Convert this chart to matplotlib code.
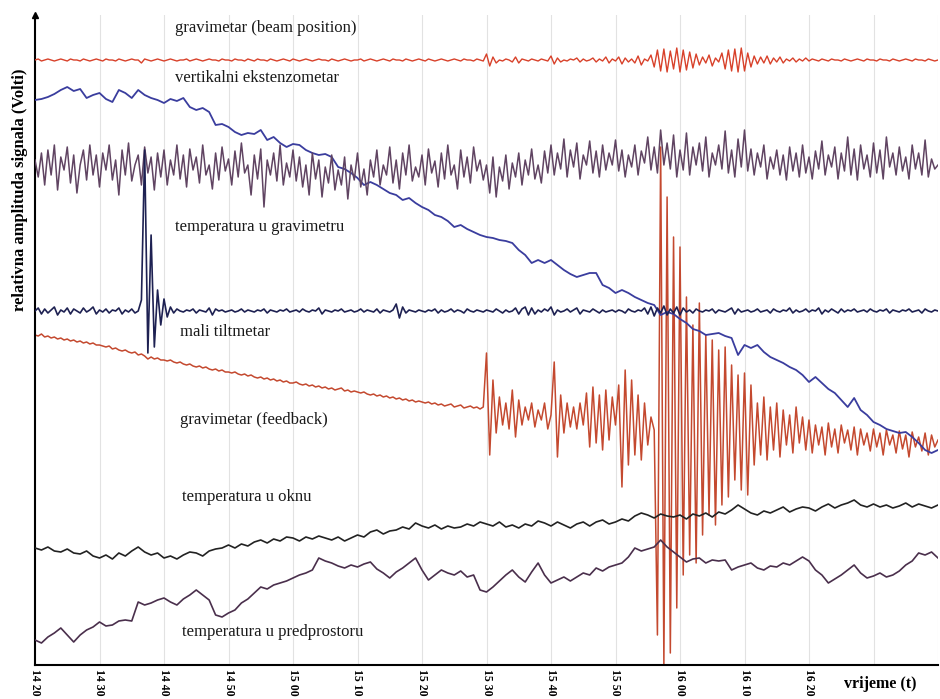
import numpy as np
import matplotlib
matplotlib.use("Agg")
import matplotlib.pyplot as plt

# relative signal amplitude (arbitrary units, 0 = bottom of plot), sampled every 0.5 min from 14:20
beam_position = [
    605, 606, 604, 605, 606, 605, 604, 605, 606, 605, 604, 606, 605, 605, 604, 606, 605, 604, 605, 606,
    605, 604, 606, 605, 605, 604, 606, 605, 604, 605, 606, 605, 605, 602, 606, 605, 604, 605, 606, 605,
    604, 605, 606, 605, 604, 605, 605, 606, 604, 605, 606, 605, 604, 605, 606, 605, 605, 604, 606, 605,
    605, 604, 606, 605, 605, 604, 606, 605, 604, 606, 605, 605, 604, 606, 605, 604, 605, 606, 605, 604,
    606, 605, 604, 605, 606, 605, 604, 605, 606, 605, 605, 604, 606, 605, 604, 605, 606, 605, 604, 605,
    605, 606, 604, 605, 606, 605, 604, 605, 606, 605, 604, 606, 605, 605, 604, 606, 605, 604, 605, 606,
    605, 604, 606, 605, 604, 605, 606, 605, 604, 605, 606, 605, 604, 606, 605, 605, 604, 606, 605, 604,
    611, 599, 608, 602, 605, 604, 606, 605, 603, 608, 602, 606, 605, 604, 606, 605, 604, 606, 605, 604,
    609, 601, 607, 603, 605, 604, 606, 605, 607, 603, 606, 604, 605, 607, 603, 606, 604, 608, 602, 606,
    604, 608, 601, 607, 603, 606, 602, 609, 600, 606, 604, 610, 598, 615, 594, 616, 593, 614, 596, 617,
    593, 615, 595, 613, 597, 611, 600, 608, 602, 610, 599, 607, 603, 612, 596, 615, 594, 616, 593, 617,
    594, 612, 598, 609, 601, 608, 602, 609, 601, 607, 603, 608, 602, 606, 604, 607, 603, 606, 604, 607,
    604, 606, 605, 604, 606, 605, 604, 606, 605, 605, 604, 606, 605, 604, 605, 606, 605, 604, 606, 605,
    605, 604, 606, 605, 605, 604, 606, 605, 604, 605, 606, 605, 604, 606, 605, 605, 604, 606, 605, 604,
    605,
]

temp_gravimetar = [
    505, 488, 512, 480, 515, 490, 520, 475, 508, 495, 518, 482, 510, 472, 500, 515, 485, 520, 490, 510,
    478, 512, 495, 520, 485, 505, 470, 515, 490, 522, 484, 500, 510, 480, 518, 492, 508, 475, 512, 488,
    515, 480, 505, 490, 520, 486, 510, 478, 516, 495, 508, 482, 520, 490, 500, 476, 512, 485, 518, 494,
    506, 480, 514, 488, 522, 492, 500, 470, 510, 486, 516, 458, 505, 490, 512, 484, 520, 480, 502, 488,
    515, 484, 508, 478, 500, 470, 512, 486, 505, 468, 498, 482, 510, 475, 495, 480, 508, 466, 500, 485,
    512, 478, 496, 470, 505, 488, 515, 480, 500, 490, 518, 482, 505, 476, 512, 490, 520, 484, 498, 488,
    510, 480, 516, 492, 504, 478, 512, 486, 520, 490, 500, 476, 515, 488, 508, 482, 518, 494, 505, 485,
    500, 472, 508, 468, 498, 484, 510, 476, 502, 488, 512, 480, 505, 490, 516, 486, 500, 482, 514, 492,
    520, 490, 512, 496, 526, 488, 515, 498, 522, 486, 510, 500, 524, 492, 514, 488, 520, 495, 512, 500,
    525, 494, 515, 488, 510, 498, 520, 490, 514, 502, 528, 495, 518, 492, 535, 500, 522, 496, 530, 488,
    515, 495, 532, 490, 518, 500, 522, 494, 528, 488, 512, 500, 520, 496, 534, 492, 515, 488, 526, 498,
    535, 494, 516, 490, 512, 498, 520, 486, 508, 496, 515, 490, 510, 485, 518, 494, 512, 488, 520, 492,
    508, 486, 514, 496, 524, 490, 510, 498, 518, 486, 512, 494, 528, 490, 516, 485, 520, 496, 510, 488,
    522, 492, 515, 486, 528, 498, 512, 490, 518, 494, 508, 486, 520, 496, 512, 490, 525, 488, 506, 496,
    500,
]

tiltmetar = [
    354, 357, 351, 356, 352, 355, 358, 350, 355, 353, 357, 351, 356, 354, 352, 357, 353, 355, 358, 351,
    355, 353, 356, 352, 355, 354, 357, 351, 355, 353, 356, 352, 354, 365, 515, 312, 430, 318, 375, 340,
    366, 348, 358, 352, 356, 354, 353, 355, 354, 356, 352, 355, 354, 353, 357, 350, 356, 354, 355, 353,
    354, 355, 353, 354, 356, 353, 355, 354, 353, 355, 354, 356, 352, 355, 354, 353, 355, 354, 356, 353,
    354, 355, 353, 356, 354, 353, 355, 354, 357, 351, 355, 354, 353, 355, 354, 356, 353, 354, 355, 353,
    354, 356, 353, 355, 354, 353, 356, 352, 355, 354, 353, 355, 361, 347, 358, 352, 355, 354, 353, 355,
    354, 353, 355, 354, 356, 352, 355, 353, 354, 356, 353, 355, 354, 352, 356, 354, 353, 355, 354, 353,
    355, 354, 353, 356, 354, 352, 355, 353, 354, 357, 351, 356, 358, 350, 357, 351, 355, 353, 356, 354,
    358, 350, 355, 353, 354, 356, 353, 355, 357, 351, 355, 354, 353, 356, 354, 352, 355, 353, 354, 355,
    353, 355, 354, 352, 356, 354, 353, 355, 354, 357, 351, 358, 349, 357, 352, 359, 350, 356, 352, 358,
    350, 357, 353, 355, 352, 356, 354, 353, 355, 354, 356, 352, 355, 354, 353, 355, 357, 351, 356, 353,
    354, 355, 353, 354, 356, 353, 354, 355, 352, 356, 354, 353, 355, 354, 357, 352, 355, 353, 354, 356,
    353, 355, 354, 357, 351, 355, 353, 356, 354, 352, 356, 353, 355, 354, 356, 353, 354, 355, 353, 356,
    354, 353, 355, 354, 356, 352, 355, 354, 353, 355, 354, 356, 353, 354, 355, 352, 356, 354, 353, 355,
    354,
]

feedback = [
    330, 329, 331, 328, 329, 327, 328, 326, 327, 325, 326, 324, 325, 323, 324, 322, 323, 321, 322, 320,
    320, 319, 318, 319, 316, 317, 315, 314, 315, 313, 312, 313, 310, 311, 309, 306, 308, 306, 307, 305,
    305, 304, 305, 303, 302, 303, 301, 300, 301, 299, 298, 299, 297, 298, 296, 295, 296, 294, 295, 293,
    293, 292, 293, 291, 290, 291, 289, 290, 288, 287, 288, 286, 287, 285, 286, 284, 285, 283, 284, 282,
    282, 283, 281, 280, 281, 279, 280, 278, 279, 277, 278, 276, 277, 275, 276, 277, 274, 275, 273, 274,
    273, 272, 273, 271, 270, 271, 269, 270, 268, 269, 267, 268, 266, 267, 265, 266, 264, 265, 263, 264,
    263, 262, 263, 261, 262, 260, 261, 259, 260, 261, 258, 259, 260, 257, 258, 259, 257, 258, 256, 258,
    312, 210, 285, 232, 268, 240, 262, 236, 275, 228, 265, 240, 258, 245, 262, 238, 255, 245, 262, 236,
    250, 303, 208, 270, 232, 262, 238, 258, 236, 262, 240, 272, 218, 278, 222, 270, 215, 275, 225, 268,
    240, 280, 178, 295, 200, 285, 210, 270, 205, 262, 220, 248, 235, 30, 518, 1, 468, 12, 428, 57,
    418, 90, 368, 110, 340, 102, 362, 130, 330, 150, 325, 140, 315, 160, 318, 168, 300, 185, 290, 175,
    292, 170, 280, 200, 262, 210, 268, 205, 258, 215, 262, 208, 255, 220, 250, 212, 258, 222, 248, 215,
    245, 212, 240, 220, 238, 210, 242, 218, 236, 212, 240, 222, 235, 215, 238, 210, 236, 220, 232, 214,
    236, 218, 232, 210, 235, 220, 230, 212, 234, 216, 230, 208, 233, 218, 228, 214, 232, 210, 230, 218,
    225,
]

# slower channels, sampled every 1 min
ekstenzometar = [
    565, 566, 568, 571, 575, 578, 574, 576, 567, 570,
    572, 566, 563, 575, 572, 567, 575, 570, 567, 565,
    562, 566, 564, 567, 558, 555, 557, 553, 540, 541,
    538, 533, 530, 532, 531, 535, 525, 528, 522, 518,
    521, 520, 515, 512, 510, 511, 508, 498, 496, 492,
    487, 480, 483, 480, 476, 472, 470, 465, 467, 462,
    458, 455, 450, 448, 444, 438, 440, 436, 433, 430,
    428, 427, 425, 424, 422, 415, 410, 402, 405, 402,
    405, 400, 395, 391, 388, 390, 392, 392, 380, 377,
    372, 375, 372, 368, 365, 362, 360, 350, 353, 351,
    346, 342, 336, 334, 330, 331, 332, 329, 327, 310,
    320, 317, 320, 313, 308, 305, 302, 298, 295, 290,
    283, 288, 282, 276, 272, 265, 258, 267, 255, 250,
    243, 240, 236, 234, 232, 233, 228, 222, 215, 212,
    215,
]

temp_okno = [
    117, 115, 118, 114, 113, 116, 112, 111, 114, 109,
    107, 110, 106, 112, 109, 114, 118, 113, 110, 112,
    107, 109, 106, 110, 113, 112, 109, 114, 116, 117,
    120, 117, 121, 119, 123, 125, 122, 126, 124, 128,
    127, 124, 128, 126, 129, 127, 125, 128, 124, 127,
    130, 128, 133, 135, 131, 134, 135, 138, 136, 142,
    139, 137, 140, 136, 139, 137, 138, 141, 139, 143,
    141, 139, 143, 138, 140, 137, 141, 139, 144, 142,
    139, 143, 140, 137, 141, 143, 139, 143, 145, 141,
    143, 146, 144, 149, 152, 150, 147, 151, 149, 148,
    150, 146, 151, 149, 152, 148, 153, 151, 155, 160,
    156, 152, 150, 154, 152, 155, 158, 153, 156, 158,
    157, 154, 158, 161, 157, 160, 162, 165, 160, 158,
    161, 158, 160, 157, 159, 162, 158, 161, 159, 157,
    160,
]

temp_predprostor = [
    25, 22, 28, 32, 37, 30, 23, 30, 35, 38,
    43, 39, 40, 44, 45, 44, 63, 60, 62, 65,
    67, 63, 60, 66, 70, 75, 70, 65, 50, 48,
    52, 55, 62, 66, 72, 78, 76, 80, 82, 84,
    87, 90, 92, 95, 107, 104, 102, 99, 97, 100,
    98, 101, 103, 96, 92, 87, 93, 97, 102, 107,
    95, 85, 90, 95, 92, 90, 94, 88, 90, 75,
    73, 78, 84, 90, 95, 88, 83, 93, 102, 90,
    82, 85, 88, 84, 88, 92, 90, 97, 94, 98,
    100, 102, 108, 117, 114, 116, 118, 125, 118, 113,
    108, 103, 106, 107, 102, 105, 104, 105, 95, 98,
    100, 102, 97, 95, 99, 98, 102, 100, 104, 108,
    104, 95, 90, 82, 86, 90, 95, 100, 92, 87,
    89, 92, 88, 90, 94, 100, 104, 112, 110, 113,
    107,
]

tick_minutes = list(range(0, 130, 10))
tick_labels = ["14 20", "14 30", "14 40", "14 50", "15 00", "15 10", "15 20",
               "15 30", "15 40", "15 50", "16 00", "16 10", "16 20"]

plt.rcParams['font.family'] = ['Liberation Serif', 'DejaVu Serif']

fig = plt.figure(figsize=(9.40, 6.99), dpi=100)
ax = fig.add_axes([35 / 940, 34 / 699, 903 / 940, 650 / 699])

def t_of(vals, step):
    return np.arange(len(vals)) * step

# feedback first so the other traces sit on top of the quake strokes
ax.plot(t_of(feedback, 0.5), feedback, color='#c4492f', lw=1.1, zorder=2)
ax.plot(t_of(beam_position, 0.5), beam_position, color='#d8412a', lw=1.0, zorder=3)
ax.plot(t_of(ekstenzometar, 1.0), ekstenzometar, color='#3a3d9e', lw=1.3, zorder=3)
ax.plot(t_of(temp_gravimetar, 0.5), temp_gravimetar, color='#604462', lw=1.1, zorder=3)
ax.plot(t_of(tiltmetar, 0.5), tiltmetar, color='#1e2152', lw=1.2, zorder=4)
ax.plot(t_of(temp_okno, 1.0), temp_okno, color='#222222', lw=1.2, zorder=3)
ax.plot(t_of(temp_predprostor, 1.0), temp_predprostor, color='#4a2f4c', lw=1.2, zorder=3)

ax.set_xlim(0, 140)
ax.set_ylim(0, 650)

# vertical grid every 10 minutes
for m in range(10, 141, 10):
    ax.axvline(m, color='#e2e2e2', lw=0.8, zorder=0)

ax.spines['top'].set_visible(False)
ax.spines['right'].set_visible(False)
ax.spines['left'].set_linewidth(1.5)
ax.spines['bottom'].set_linewidth(1.5)
ax.plot(0, 1, marker='^', color='black', markersize=5, transform=ax.transAxes, clip_on=False)

ax.set_yticks([])
ax.set_xticks(tick_minutes)
ax.set_xticklabels(tick_labels, rotation=-90, fontsize=8.5, fontweight='bold', va='top')
ax.tick_params(axis='x', length=0, pad=3)

labels = [
    (21.7, 637, "gravimetar (beam position)"),
    (21.7, 587, "vertikalni ekstenzometar"),
    (21.7, 438, "temperatura u gravimetru"),
    (22.5, 333, "mali tiltmetar"),
    (22.5, 245, "gravimetar (feedback)"),
    (22.8, 168, "temperatura u oknu"),
    (22.8, 33, "temperatura u predprostoru"),
]
for x, y, txt in labels:
    ax.text(x, y, txt, fontsize=12, ha='left', va='center', color='#1a1a1a', zorder=5)

fig.text(20 / 940, 1 - 190 / 699, "relativna amplituda signala (Volti)", rotation=90,
         fontsize=12, fontweight='bold', ha='center', va='center')
fig.text(880 / 940, 1 - 684 / 699, "vrijeme (t)", fontsize=11.5, fontweight='bold',
         ha='center', va='center')

fig.savefig("out.png", dpi=100)
